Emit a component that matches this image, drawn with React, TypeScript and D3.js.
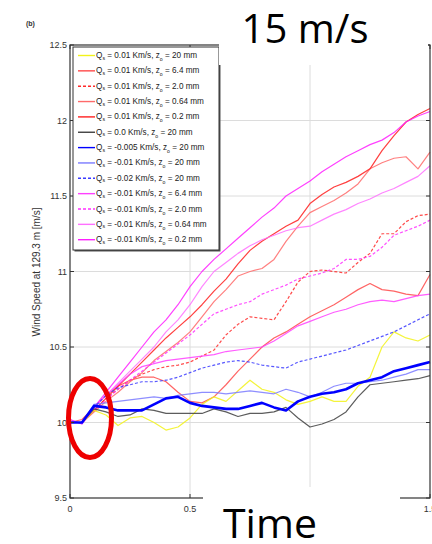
import React from "react";
import * as d3 from "d3";

const W = 432;
const H = 544;

const time = [0, 0.05, 0.1, 0.15, 0.2, 0.25, 0.3, 0.35, 0.4, 0.45, 0.5, 0.55, 0.6, 0.65, 0.7, 0.75, 0.8, 0.85, 0.9, 0.95, 1.0, 1.05, 1.1, 1.15, 1.2, 1.25, 1.3, 1.35, 1.4, 1.45, 1.5];

const yellow20 = [10.0, 10.0, 10.08, 10.05, 9.98, 10.03, 10.04, 10.0, 9.95, 9.97, 10.03, 10.12, 10.17, 10.14, 10.21, 10.28, 10.22, 10.2, 10.15, 10.12, 10.14, 10.17, 10.14, 10.14, 10.24, 10.3, 10.5, 10.6, 10.56, 10.54, 10.58];
const red64 = [10.0, 10.02, 10.1, 10.18, 10.24, 10.28, 10.3, 10.3, 10.27, 10.2, 10.14, 10.13, 10.17, 10.25, 10.34, 10.42, 10.5, 10.56, 10.6, 10.65, 10.7, 10.74, 10.78, 10.83, 10.88, 10.92, 10.88, 10.87, 10.85, 10.84, 10.98];
const red20d = [10.0, 10.0, 10.08, 10.16, 10.22, 10.28, 10.32, 10.35, 10.37, 10.38, 10.4, 10.44, 10.48, 10.58, 10.65, 10.7, 10.69, 10.68, 10.8, 10.93, 11.0, 11.01, 11.0, 10.99, 11.06, 11.12, 11.25, 11.25, 11.33, 11.37, 11.38];
const red064 = [10.0, 10.0, 10.07, 10.14, 10.2, 10.27, 10.33, 10.41, 10.47, 10.53, 10.6, 10.7, 10.8, 10.88, 10.97, 11.0, 11.02, 11.08, 11.2, 11.3, 11.39, 11.43, 11.47, 11.52, 11.58, 11.68, 11.72, 11.75, 11.76, 11.68, 11.79];
const red02 = [10.0, 10.0, 10.08, 10.16, 10.24, 10.32, 10.4, 10.48, 10.56, 10.63, 10.7, 10.78, 10.87, 10.95, 11.05, 11.14, 11.2, 11.25, 11.3, 11.34, 11.45, 11.51, 11.56, 11.59, 11.63, 11.68, 11.8, 11.9, 11.99, 12.04, 12.08];
const gray20 = [10.0, 10.0, 10.09, 10.07, 10.04, 10.05, 10.09, 10.08, 10.06, 10.06, 10.06, 10.06, 10.09, 10.07, 10.04, 10.06, 10.06, 10.07, 10.1, 10.03, 9.97, 9.99, 10.02, 10.07, 10.17, 10.25, 10.26, 10.27, 10.28, 10.29, 10.31];
const blue005 = [10.0, 10.0, 10.11, 10.1, 10.08, 10.08, 10.08, 10.12, 10.16, 10.17, 10.13, 10.11, 10.1, 10.09, 10.09, 10.11, 10.13, 10.1, 10.08, 10.14, 10.17, 10.19, 10.2, 10.22, 10.26, 10.28, 10.3, 10.34, 10.36, 10.38, 10.4];
const blue01 = [10.0, 10.0, 10.12, 10.13, 10.14, 10.15, 10.16, 10.17, 10.16, 10.18, 10.19, 10.2, 10.2, 10.19, 10.2, 10.21, 10.2, 10.19, 10.22, 10.2, 10.17, 10.2, 10.24, 10.26, 10.26, 10.27, 10.28, 10.3, 10.32, 10.35, 10.35];
const blue02d = [10.0, 10.0, 10.1, 10.18, 10.23, 10.25, 10.27, 10.27, 10.28, 10.3, 10.33, 10.36, 10.38, 10.4, 10.41, 10.4, 10.38, 10.37, 10.36, 10.4, 10.42, 10.44, 10.46, 10.48, 10.51, 10.54, 10.57, 10.6, 10.64, 10.68, 10.72];
const mag64 = [10.0, 10.0, 10.1, 10.18, 10.25, 10.32, 10.37, 10.39, 10.41, 10.42, 10.43, 10.44, 10.45, 10.47, 10.48, 10.49, 10.5, 10.54, 10.59, 10.64, 10.67, 10.7, 10.73, 10.75, 10.78, 10.8, 10.81, 10.8, 10.82, 10.84, 10.85];
const mag20d = [10.0, 10.0, 10.08, 10.15, 10.22, 10.28, 10.34, 10.4, 10.46, 10.52, 10.58, 10.65, 10.72, 10.75, 10.78, 10.8, 10.85, 10.88, 10.91, 10.95, 10.97, 10.99, 11.02, 11.08, 11.08, 11.1, 11.16, 11.24, 11.27, 11.3, 11.34];
const mag064 = [10.02, 9.99, 10.1, 10.18, 10.26, 10.34, 10.42, 10.5, 10.6, 10.68, 10.78, 10.9, 11.0, 11.06, 11.12, 11.17, 11.21, 11.24, 11.27, 11.29, 11.3, 11.34, 11.38, 11.41, 11.45, 11.48, 11.52, 11.55, 11.59, 11.63, 11.7];
const mag02 = [10.02, 9.99, 10.1, 10.2, 10.3, 10.4, 10.5, 10.6, 10.68, 10.78, 10.9, 11.0, 11.08, 11.15, 11.22, 11.29, 11.36, 11.42, 11.5, 11.55, 11.6, 11.66, 11.71, 11.76, 11.8, 11.84, 11.87, 11.92, 11.99, 12.03, 12.06];

const legendQ = ["0.01", "0.01", "0.01", "0.01", "0.01", "0.0", "-0.005", "-0.01", "-0.02", "-0.01", "-0.01", "-0.01", "-0.01"];
const legendZ = ["20", "6.4", "2.0", "0.64", "0.2", "20", "20", "20", "20", "6.4", "2.0", "0.64", "0.2"];
const seriesValues = [yellow20, red64, red20d, red064, red02, gray20, blue005, blue01, blue02d, mag64, mag20d, mag064, mag02];
const seriesColors = ["#f2f21a", "#ff4a4a", "#ff2a2a", "#ff6a6a", "#ff1f1f", "#404040", "#0000ff", "#7a7aff", "#3a3aff", "#ff40ff", "#ff30ff", "#ff70ff", "#ff1fff"];
const seriesDash = [false, false, true, false, false, false, false, false, true, false, true, false, false];
const seriesWidth = [1.2, 1.2, 1.2, 1.2, 1.2, 1.2, 2.6, 1.2, 1.2, 1.2, 1.2, 1.2, 1.2];
const drawOrder = [1, 2, 3, 4, 9, 10, 11, 12, 0, 5, 7, 8, 6];

const yTicks = [9.5, 10, 10.5, 11, 11.5, 12, 12.5];
const yTickLabels = ["9.5", "10", "10.5", "11", "11.5", "12", "12.5"];
const xTicks = [0, 0.5, 1, 1.5];
const xTickLabels = ["0", "0.5", "", "1.5"];

export default function App() {
  const left = 70, right = 430, top = 45, bottom = 498;
  const x = d3.scaleLinear().domain([0, 1.5]).range([left, right]);
  const y = d3.scaleLinear().domain([9.5, 12.5]).range([bottom, top]);
  const line = d3.line<number>().x((_, i) => x(time[i])).y((v) => y(v));
  const font = "'Liberation Sans', Arial, sans-serif";
  const lgX = 73, lgY = 47, lgW = 146, lgH = 203;
  const rowY = (i: number) => 55.5 + i * 15.35;

  return (
    <svg width={W} height={H} style={{ position: "absolute", left: 0, top: 0, background: "#fff" }} fontFamily={font}>
      <rect x={0} y={0} width={W} height={H} fill="#fff" />
      <text x={26} y={26} fontSize={7} fontWeight="bold" fill="#333">(b)</text>
      {yTicks.slice(1, -1).map((t) => (
        <line key={"gy" + t} x1={left} x2={right} y1={y(t)} y2={y(t)} stroke="#dcdcdc" strokeWidth={1} />
      ))}
      {xTicks.slice(1, -1).map((t) => (
        <line key={"gx" + t} x1={x(t)} x2={x(t)} y1={top} y2={bottom} stroke="#dcdcdc" strokeWidth={1} />
      ))}
      <g fill="none" strokeLinejoin="round">
        {drawOrder.map((k) => (
          <path key={"s" + k} d={line(seriesValues[k]) || ""} stroke={seriesColors[k]} strokeWidth={seriesWidth[k]}
            strokeDasharray={seriesDash[k] ? "3,2" : undefined} strokeOpacity={k === 6 ? 1 : 0.85} />
        ))}
      </g>
      <rect x={left} y={top} width={right - left} height={bottom - top} fill="none" stroke="#333" strokeWidth={1.2} />
      {yTicks.map((t) => (
        <g key={"ty" + t}>
          <line x1={left} x2={left + 4} y1={y(t)} y2={y(t)} stroke="#333" />
          <line x1={right - 4} x2={right} y1={y(t)} y2={y(t)} stroke="#333" />
        </g>
      ))}
      {xTicks.map((t) => (
        <g key={"tx" + t}>
          <line x1={x(t)} x2={x(t)} y1={bottom} y2={bottom - 4} stroke="#333" />
          <line x1={x(t)} x2={x(t)} y1={top} y2={top + 4} stroke="#333" />
        </g>
      ))}
      {yTicks.map((t, i) => (
        <text key={"yl" + t} x={left - 3} y={y(t) + 3} fontSize={9} textAnchor="end" fill="#333">{yTickLabels[i]}</text>
      ))}
      {xTicks.map((t, i) => (xTickLabels[i] ? (
        <text key={"xl" + t} x={x(t)} y={bottom + 14} fontSize={9} textAnchor="middle" fill="#333">{xTickLabels[i]}</text>
      ) : null))}
      <text transform={`translate(40,272) rotate(-90)`} fontSize={10} textAnchor="middle" fill="#333">Wind Speed at 129.3 m [m/s]</text>
      <rect x={lgX + 1.5} y={lgY + 1.5} width={lgW} height={lgH} fill="#555" />
      <rect x={lgX} y={lgY} width={lgW} height={lgH} fill="#fff" stroke="#333" strokeWidth={1} />
      {seriesValues.map((_, i) => (
        <g key={"lg" + i}>
          <line x1={78} x2={95} y1={rowY(i)} y2={rowY(i)} stroke={seriesColors[i]} strokeWidth={1.4}
            strokeDasharray={seriesDash[i] ? "3,2" : undefined} />
          <text x={96} y={rowY(i) + 2.5} fontSize={8.2} fill="#222">
            Q<tspan fontSize={5.2} dy={1.5}>s</tspan><tspan dy={-1.5}> = {legendQ[i]} Km/s, z</tspan><tspan fontSize={5.2} dy={3}>o</tspan><tspan dy={-3}> = {legendZ[i]} mm</tspan>
          </text>
        </g>
      ))}
      <ellipse cx={90} cy={418} rx={21.5} ry={39.5} fill="none" stroke="#ee0000" strokeWidth={5} />
      <rect x={219} y={0} width={209} height={65} fill="#fff" />
      <text x={305} y={43} fontSize={40} textAnchor="middle" fill="#000" fontFamily="'Open Sans', sans-serif">15 m/s</text>
      <rect x={203} y={487} width={197} height={57} fill="#fff" />
      <text x={270} y={538} fontSize={41} textAnchor="middle" fill="#000" fontFamily="'Open Sans', sans-serif">Time</text>
    </svg>
  );
}
